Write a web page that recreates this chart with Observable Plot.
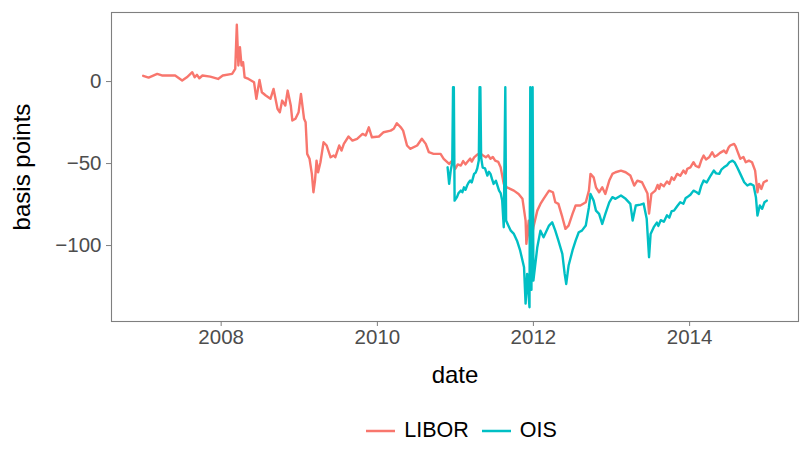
<!DOCTYPE html>
<html>
<head>
<meta charset="utf-8">
<script src="https://cdn.jsdelivr.net/npm/d3@7"></script>
<script src="https://cdn.jsdelivr.net/npm/@observablehq/plot@0.6"></script>
<style>
  html, body { margin: 0; padding: 0; background: #ffffff; }
  body { width: 803px; height: 451px; overflow: hidden; font-family: "Liberation Sans", Arial, sans-serif; }
  #legend { display: flex; justify-content: center; align-items: center; height: 41px; font-size: 21.5px; color: #000; padding-left: 119px; box-sizing: border-box; width: 803px; }
  #legend .item { display: flex; align-items: center; margin: 0 6px; }
  #legend svg { margin-right: 8px; }
</style>
</head>
<body>
<div id="chart"></div>
<div id="legend"></div>
<script>
// ---- data: [decimal year, basis points] ----
const seriesNames = ["LIBOR", "OIS"];
const seriesColors = ["#F8766D", "#00BFC4"];

const liborPoints = [
  [2007.00,3.5],[2007.07,2.4],[2007.18,4.7],[2007.24,3.7],[2007.41,3.7],[2007.50,0.6],[2007.56,2.6],[2007.63,5.7],[2007.66,2.6],[2007.69,4.1],[2007.72,2.0],[2007.76,3.7],[2007.86,3.0],[2007.96,1.6],[2008.02,3.7],[2008.14,4.7],[2008.18,7.7],
  [2008.20,34.6],[2008.22,9.8],[2008.24,20.9],[2008.26,9.8],[2008.28,11.8],[2008.30,2.6],[2008.35,1.6],[2008.42,-0.4],[2008.45,-10.5],[2008.49,1.0],[2008.52,-6.5],[2008.57,-8.5],[2008.63,-10.5],[2008.67,-4.5],[2008.72,-16.6],[2008.75,-18.7],[2008.78,-11.6],[2008.82,-14.6],[2008.85,-5.5],[2008.89,-14.6],[2008.91,-23.8],[2008.95,-22.7],[2008.99,-18.7],
  [2009.02,-7.5],[2009.06,-22.7],[2009.08,-24.8],[2009.10,-44.1],[2009.13,-47.1],[2009.16,-56.3],[2009.18,-67.5],[2009.20,-60.4],[2009.22,-48.2],[2009.24,-55.3],[2009.27,-49.2],[2009.31,-37.0],[2009.35,-39.0],[2009.40,-46.2],[2009.44,-45.1],[2009.46,-46.2],[2009.51,-39.0],[2009.54,-42.1],[2009.57,-38.0],[2009.63,-33.5],[2009.68,-36.0],[2009.74,-34.9],[2009.81,-31.9],[2009.85,-32.9],[2009.89,-27.9],[2009.93,-34.0],
  [2010.02,-33.5],[2010.08,-30.9],[2010.17,-29.9],[2010.21,-28.8],[2010.25,-25.4],[2010.30,-27.9],[2010.33,-29.9],[2010.38,-39.0],[2010.42,-41.0],[2010.51,-39.0],[2010.57,-34.9],[2010.62,-38.0],[2010.66,-43.1],[2010.72,-44.1],[2010.81,-44.1],[2010.85,-47.1],[2010.92,-50.2],[2010.96,-48.2],
  [2011.00,-53.2],[2011.03,-50.5],[2011.07,-51.2],[2011.10,-48.5],[2011.13,-50.5],[2011.15,-49.2],[2011.19,-47.0],[2011.21,-48.8],[2011.24,-46.2],[2011.28,-44.5],[2011.32,-43.7],[2011.35,-45.0],[2011.39,-46.2],[2011.42,-45.0],[2011.45,-47.1],[2011.48,-46.0],[2011.51,-48.2],[2011.55,-49.0],[2011.58,-52.3],[2011.62,-62.4],[2011.66,-64.5],[2011.75,-66.5],[2011.81,-68.5],[2011.86,-71.5],[2011.90,-84.8],[2011.91,-99.0],[2011.94,-84.8],[2011.96,-100.0],
  [2012.00,-88.8],[2012.05,-78.7],[2012.09,-74.6],[2012.13,-71.5],[2012.20,-66.5],[2012.25,-67.5],[2012.28,-73.6],[2012.32,-74.6],[2012.37,-82.7],[2012.41,-89.8],[2012.45,-87.8],[2012.50,-80.7],[2012.54,-75.6],[2012.60,-75.6],[2012.67,-73.6],[2012.71,-66.5],[2012.73,-56.3],[2012.77,-58.4],[2012.80,-64.5],[2012.84,-67.5],[2012.88,-64.5],[2012.92,-68.5],[2012.97,-60.4],
  [2013.01,-56.3],[2013.05,-55.3],[2013.12,-54.3],[2013.18,-55.3],[2013.24,-57.3],[2013.29,-63.4],[2013.33,-60.4],[2013.39,-61.4],[2013.46,-68.3],[2013.48,-80.5],[2013.51,-68.5],[2013.56,-66.5],[2013.59,-63.0],[2013.61,-65.5],[2013.63,-62.4],[2013.67,-63.8],[2013.71,-60.9],[2013.74,-62.4],[2013.77,-58.4],[2013.80,-60.0],[2013.84,-56.3],[2013.88,-57.5],[2013.92,-54.3],[2013.95,-56.0],[2013.97,-53.2],
  [2014.01,-52.3],[2014.05,-49.2],[2014.08,-51.5],[2014.12,-52.3],[2014.15,-48.0],[2014.18,-45.1],[2014.21,-47.5],[2014.25,-46.2],[2014.29,-43.1],[2014.32,-45.8],[2014.35,-45.1],[2014.39,-43.5],[2014.44,-42.1],[2014.47,-43.6],[2014.50,-40.2],[2014.52,-39.0],[2014.57,-38.0],[2014.59,-39.5],[2014.61,-42.1],[2014.65,-47.1],[2014.69,-46.0],[2014.72,-49.2],[2014.76,-48.2],[2014.80,-49.2],[2014.84,-54.3],[2014.87,-67.5],[2014.89,-62.4],[2014.92,-65.5],[2014.95,-61.4],[2014.99,-60.4]
];

const oisPoints = [
  [2010.90,-52.3],[2010.92,-62.4],[2010.94,-54.3],[2010.96,-49.4],[2010.97,-3.5],[2010.98,-3.5],[2010.99,-72.6],
  [2011.02,-70.5],[2011.04,-68.0],[2011.07,-66.5],[2011.09,-67.5],[2011.11,-64.5],[2011.13,-66.0],[2011.15,-63.4],[2011.17,-61.5],[2011.19,-60.4],[2011.21,-61.5],[2011.24,-56.3],[2011.26,-55.5],[2011.28,-53.0],[2011.30,-48.2],[2011.31,-3.5],[2011.32,-3.5],[2011.33,-46.3],[2011.35,-52.5],[2011.38,-53.0],[2011.41,-57.3],[2011.43,-55.0],[2011.45,-56.3],[2011.47,-59.5],[2011.49,-62.4],[2011.52,-60.5],[2011.56,-66.5],[2011.58,-68.0],[2011.60,-72.6],[2011.62,-88.8],[2011.64,-3.5],[2011.65,-84.8],[2011.71,-90.9],[2011.75,-92.9],[2011.79,-97.0],[2011.83,-103.0],[2011.88,-113.2],[2011.90,-135.4],[2011.92,-117.3],[2011.95,-137.6],[2011.96,-3.5],[2011.975,-127.0],[2011.99,-3.5],
  [2012.00,-121.3],[2012.05,-101.0],[2012.09,-90.9],[2012.13,-95.0],[2012.20,-87.8],[2012.24,-85.8],[2012.28,-90.9],[2012.32,-97.0],[2012.37,-105.1],[2012.40,-117.3],[2012.42,-123.4],[2012.45,-112.2],[2012.50,-103.0],[2012.54,-97.0],[2012.58,-91.9],[2012.62,-90.9],[2012.67,-87.8],[2012.71,-76.6],[2012.73,-68.5],[2012.77,-72.6],[2012.80,-78.7],[2012.84,-80.7],[2012.88,-86.8],[2012.92,-80.7],[2012.97,-73.6],
  [2013.01,-70.5],[2013.05,-71.5],[2013.12,-69.5],[2013.18,-71.5],[2013.24,-74.6],[2013.27,-84.8],[2013.31,-75.6],[2013.37,-75.0],[2013.41,-74.4],[2013.45,-83.7],[2013.48,-107.1],[2013.50,-92.9],[2013.54,-88.8],[2013.58,-86.0],[2013.60,-88.0],[2013.63,-84.5],[2013.67,-85.5],[2013.71,-81.5],[2013.74,-83.0],[2013.77,-79.0],[2013.80,-78.7],[2013.84,-76.0],[2013.88,-73.6],[2013.92,-74.5],[2013.95,-71.0],[2013.97,-70.5],
  [2014.01,-69.0],[2014.05,-66.5],[2014.09,-67.5],[2014.12,-68.5],[2014.15,-63.5],[2014.18,-60.4],[2014.22,-61.5],[2014.27,-57.3],[2014.31,-54.3],[2014.34,-56.0],[2014.38,-56.3],[2014.41,-53.5],[2014.44,-52.3],[2014.48,-51.0],[2014.51,-49.2],[2014.55,-48.2],[2014.58,-49.5],[2014.61,-52.3],[2014.65,-56.3],[2014.70,-61.4],[2014.74,-63.4],[2014.78,-62.4],[2014.82,-63.4],[2014.85,-70.5],[2014.87,-81.7],[2014.90,-75.6],[2014.93,-77.6],[2014.96,-73.6],[2014.99,-72.6]
];

const xTickYears = [2008, 2010, 2012, 2014];
const yTicks = [0, -50, -100];
const xTitle = "date";
const yTitle = "basis points";

// ---- build table ----
function toDate(y) {
  const yr = Math.floor(y);
  const s = Date.UTC(yr, 0, 1), e = Date.UTC(yr + 1, 0, 1);
  return new Date(s + (y - yr) * (e - s));
}
const rows = [
  ...liborPoints.map(([y, v]) => ({date: toDate(y), value: v, series: seriesNames[0]})),
  ...oisPoints.map(([y, v]) => ({date: toDate(y), value: v, series: seriesNames[1]}))
];

const chart = Plot.plot({
  width: 803,
  height: 410,
  marginLeft: 111,
  marginRight: 5,
  marginTop: 12,
  marginBottom: 89,
  style: {fontFamily: "Liberation Sans, Arial, sans-serif", fontSize: "20.5px", background: "#ffffff", overflow: "visible"},
  x: {type: "utc", domain: [toDate(2006.594), toDate(2015.396)]},
  y: {domain: [-146.3, 42.1]},
  color: {domain: seriesNames, range: seriesColors},
  marks: [
    Plot.line(rows, {x: "date", y: "value", z: "series", stroke: "series", strokeWidth: 2.4, strokeLinejoin: "round"}),
    Plot.frame({stroke: "#7F7F7F", strokeWidth: 1.1}),
    Plot.axisX({ticks: xTickYears.map(y => toDate(y)), tickFormat: d3.utcFormat("%Y"), tickSize: 5, tickPadding: 3, stroke: "#7F7F7F", fill: "#4D4D4D", label: null}),
    Plot.axisY({ticks: yTicks, tickFormat: d => d3.format("d")(d).replace("-", "\u2212"), tickSize: 5, tickPadding: 5, stroke: "#7F7F7F", fill: "#4D4D4D", label: null}),
    Plot.text([xTitle], {frameAnchor: "bottom", dy: 54, fontSize: 24, fill: "#000", textAnchor: "middle", lineAnchor: "middle"}),
    Plot.text([yTitle], {frameAnchor: "left", dx: -89, rotate: -90, fontSize: 24, fill: "#000", textAnchor: "middle", lineAnchor: "middle"})
  ]
});
document.getElementById("chart").appendChild(chart);

// ---- legend ----
const legend = document.getElementById("legend");
seriesNames.forEach((name, i) => {
  const item = document.createElement("div");
  item.className = "item";
  item.innerHTML = `<svg width="31" height="12"><line x1="1" x2="30" y1="6" y2="6" stroke="${seriesColors[i]}" stroke-width="2.5"/></svg><span>${name}</span>`;
  legend.appendChild(item);
});
</script>
</body>
</html>
